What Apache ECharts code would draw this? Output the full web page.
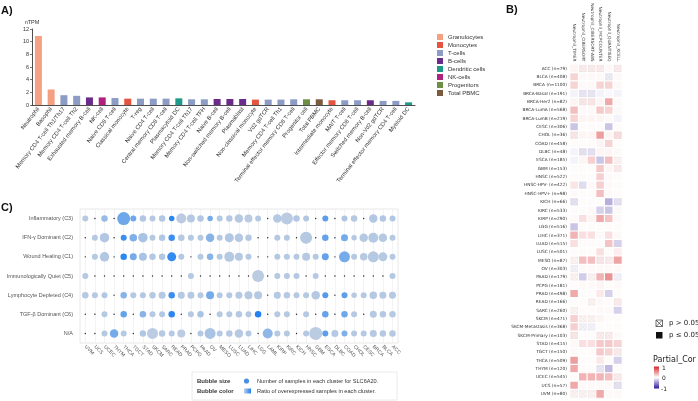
<!DOCTYPE html>
<html>
<head>
<meta charset="utf-8">
<script src="https://cdn.jsdelivr.net/npm/echarts@6/dist/echarts.min.js"></script>
<style>
  html, body { margin: 0; padding: 0; background: #fff; }
  #chart { width: 698px; height: 401px; }
</style>
</head>
<body>
<div id="chart"></div>
<script>
// ---- A) expression per blood cell type
const cellTypes = [
  "Neutrophil", "Basophil", "Memory CD4 T-cell Th1/Th17", "Memory CD4 T-cell Th2",
  "Exhausted memory B-cell", "NK-cell", "Naive CD8 T-cell", "Classical monocyte", "T-reg",
  "Naive CD4 T-cell", "Central memory CD8 T-cell", "Plasmacytoid DC", "Memory CD4 T-cell Th17",
  "Memory CD4 T-cell TFH", "Naive B-cell", "Non-switched memory B-cell", "Plasmablast",
  "Non-classical monocyte", "Vd2 gdTCR", "Memory CD4 T-cell Th1",
  "Terminal effector memory CD8 T-cell", "Progenitor cell", "Total PBMC",
  "Intermediate monocyte", "MAIT T-cell", "Effector memory CD8 T-cell",
  "Switched memory B-cell", "Non-Vd2 gdTCR", "Terminal effector memory CD4 T-cell", "Myeloid DC"
];
const nTPM = [10.9, 2.45, 1.55, 1.45, 1.2, 1.2, 1.1, 1.0, 1.0, 1.0, 1.0, 1.05, 0.9, 0.9, 0.95,
  0.95, 0.95, 0.85, 0.85, 0.85, 0.9, 0.9, 0.9, 0.75, 0.75, 0.75, 0.75, 0.65, 0.65, 0.42];
const cellGroup = ["Granulocytes", "Granulocytes", "T-cells", "T-cells", "B-cells", "NK-cells",
  "T-cells", "Monocytes", "T-cells", "T-cells", "T-cells", "Dendritic cells", "T-cells", "T-cells",
  "B-cells", "B-cells", "B-cells", "Monocytes", "T-cells", "T-cells", "T-cells", "Progenitors",
  "Total PBMC", "Monocytes", "T-cells", "T-cells", "B-cells", "T-cells", "T-cells", "Dendritic cells"];
const groupNames = ["Granulocytes", "Monocytes", "T-cells", "B-cells", "Dendritic cells",
  "NK-cells", "Progenitors", "Total PBMC"];
const groupColors = ["#f4a083", "#e6533f", "#8c9cc4", "#6a2c8c", "#1f9a8a", "#b0207f",
  "#6f8e45", "#7b5b3e"];

// ---- B) partial correlation heatmap
const methods = ["Neutrophil_TIMER", "Neutrophil_CIBERSORT", "Neutrophil_CIBERSORT-ABS",
  "Neutrophil_MCPCOUNTER", "Neutrophil_QUANTISEQ", "Neutrophil_XCELL"];
const cancerTypes = ["ACC", "BLCA", "BRCA", "BRCA-Basal", "BRCA-Her2", "BRCA-LumA", "BRCA-LumB",
  "CESC", "CHOL", "COAD", "DLBC", "ESCA", "GBM", "HNSC", "HNSC-HPV-", "HNSC-HPV+", "KICH", "KIRC",
  "KIRP", "LGG", "LIHC", "LUAD", "LUSC", "MESO", "OV", "PAAD", "PCPG", "PRAD", "READ", "SARC",
  "SKCM", "SKCM-Metastasis", "SKCM-Primary", "STAD", "TGCT", "THCA", "THYM", "UCEC", "UCS", "UVM"];
const cancerN = [79, 408, 1100, 191, 82, 568, 219, 306, 36, 458, 48, 185, 153, 522, 422, 98, 66,
  533, 290, 516, 371, 515, 501, 87, 303, 179, 181, 498, 166, 260, 471, 368, 103, 415, 150, 509,
  120, 545, 57, 80];
const partialCor = [
  [0.05, 0.08, 0.08, 0.08, 0.03, 0.08],
  [0.2, 0.03, 0.03, 0.03, -0.08, 0.03],
  [0.2, 0.03, 0.03, 0.2, 0.2, 0.03],
  [-0.05, -0.1, -0.1, -0.05, -0.03, -0.05],
  [0.05, 0.1, 0.1, 0.05, 0.4, 0.03],
  [0.3, 0.03, 0.03, 0.25, 0.2, 0.03],
  [0.2, 0.05, 0.05, 0.05, 0.03, -0.05],
  [-0.25, 0.02, 0.02, 0.02, -0.25, 0.02],
  [0.1, 0.05, 0.05, 0.45, 0.05, 0.15],
  [0.02, 0.02, 0.02, 0.05, 0.2, 0.02],
  [-0.05, -0.12, -0.12, 0.05, 0.05, 0.03],
  [-0.05, 0.05, 0.22, -0.25, 0.3, 0.05],
  [0.02, 0.02, 0.02, 0.25, 0.05, 0.08],
  [0.02, 0.02, 0.02, 0.22, 0.03, 0.02],
  [0.12, -0.15, 0.03, 0.22, 0.03, 0.02],
  [0.03, 0.02, 0.02, 0.3, 0.03, 0.02],
  [-0.12, 0.02, 0.02, 0.02, -0.35, -0.12],
  [0.02, 0.02, 0.03, -0.2, -0.25, 0.03],
  [0.03, 0.15, 0.05, 0.4, 0.28, 0.03],
  [-0.25, 0.02, 0.02, 0.02, 0.02, 0.02],
  [0.35, 0.15, 0.15, 0.03, 0.15, 0.03],
  [0.15, 0.02, 0.02, 0.02, 0.28, -0.2],
  [0.02, 0.02, 0.02, 0.15, 0.02, 0.08],
  [0.05, 0.3, 0.3, 0.1, 0.08, 0.42],
  [-0.05, 0.03, 0.03, 0.03, 0.03, 0.03],
  [0.05, -0.22, 0.05, 0.35, 0.5, -0.05],
  [0.02, 0.03, 0.03, 0.05, 0.02, 0.03],
  [0.4, 0.02, 0.02, 0.1, -0.2, 0.02],
  [0.02, 0.02, 0.05, 0.03, 0.02, 0.08],
  [0.05, 0.02, 0.02, 0.03, 0.03, -0.2],
  [0.22, 0.05, 0.05, 0.05, 0.02, 0.02],
  [0.22, -0.05, -0.05, 0.02, 0.02, 0.02],
  [0.1, 0.02, 0.02, 0.08, 0.08, 0.03],
  [0.03, 0.15, 0.15, 0.25, 0.25, 0.2],
  [0.03, 0.02, 0.02, 0.25, 0.2, 0.08],
  [0.45, 0.02, 0.02, 0.1, 0.02, -0.2],
  [0.4, 0.02, 0.02, -0.1, -0.3, 0.02],
  [0.02, 0.35, 0.35, 0.35, 0.3, 0.08],
  [0.4, 0.03, 0.03, 0.03, 0.03, -0.12],
  [0.05, 0.05, 0.05, 0.4, 0.03, 0.03]
];
// 1 = p > 0.05 (crossed cell)
const notSignificant = ["011101", "000010", "000000", "011000", "011000", "000000", "000000",
  "000000", "100001", "000000", "011000", "000001", "000001", "000000", "000000", "000000",
  "100001", "000000", "000000", "000000", "000000", "000000", "000000", "100110", "100000",
  "101001", "000000", "000000", "001001", "100000", "011000", "011000", "100110", "000000",
  "000001", "000000", "000100", "000001", "000001", "111000"];

// ---- C) immune subtype bubbles
const subtypes = ["Inflammatory (C3)", "IFN-\u03b3 Dominant (C2)", "Wound Healing (C1)",
  "Immunologically Quiet (C5)", "Lymphocyte Depleted (C4)", "TGF-\u03b2 Dominant (C6)", "N/A"];
const bubbleCancers = ["UVM", "UCS", "UCEC", "THYM", "THCA", "TGCT", "STAD", "SKCM", "SARC",
  "READ", "PRAD", "PCPG", "PAAD", "OV", "MESO", "LUSC", "LUAD", "LIHC", "LGG", "LAML", "KIRP",
  "KIRC", "KICH", "HNSC", "GBM", "ESCA", "DLBC", "COAD", "CHOL", "CESC", "BRCA", "BLCA", "ACC"];
const sampleCounts = [
  [64, 0, 75, 0, 300, 64, 75, 64, 75, 54, 178, 114, 75, 54, 64, 75, 128, 114, 64, 0, 128, 256, 75, 64, 0, 64, 0, 64, 75, 0, 128, 75, 64],
  [0, 64, 160, 0, 64, 100, 160, 64, 75, 75, 75, 64, 64, 128, 64, 144, 128, 75, 0, 0, 64, 64, 0, 256, 0, 75, 0, 87, 54, 128, 178, 128, 64],
  [0, 64, 160, 0, 75, 87, 114, 75, 75, 144, 64, 0, 64, 75, 64, 178, 114, 64, 0, 0, 64, 64, 64, 114, 64, 87, 0, 215, 64, 100, 215, 144, 64],
  [64, 0, 0, 0, 0, 0, 0, 0, 0, 0, 0, 64, 0, 0, 0, 0, 0, 0, 256, 0, 64, 64, 64, 0, 64, 0, 0, 0, 0, 0, 0, 0, 64],
  [75, 64, 64, 0, 75, 64, 64, 75, 87, 75, 87, 87, 64, 114, 64, 64, 87, 114, 114, 0, 87, 75, 64, 64, 128, 64, 0, 64, 54, 64, 100, 87, 87],
  [0, 0, 64, 0, 75, 0, 75, 64, 64, 75, 0, 64, 75, 0, 64, 64, 75, 64, 75, 0, 64, 64, 0, 64, 0, 75, 0, 75, 64, 0, 87, 75, 75],
  [0, 0, 64, 128, 64, 0, 75, 215, 75, 64, 114, 0, 64, 215, 64, 75, 128, 64, 0, 178, 64, 64, 0, 64, 300, 64, 87, 64, 64, 64, 87, 75, 75]
];
const overRatio = [
  [.06, 0, .25, 0, .5, .5, .1, .08, .1, .9, .05, .08, .1, .45, .08, .08, .08, .05, .08, 0, .08, .05, .1, .1, 0, .6, 0, .12, .08, 0, .1, .1, .1],
  [0, .08, .1, 0, .8, .4, .15, .08, .1, .8, .08, .08, .08, .35, .08, .1, .08, .08, 0, 0, .08, .08, 0, .08, 0, .55, 0, .45, .08, .08, .08, .08, .08],
  [0, .08, .1, 0, .9, .45, .15, .1, .1, .85, .08, 0, .08, .35, .08, .08, .08, .08, 0, 0, .08, .08, .08, .08, .08, .55, 0, .45, .08, .08, .08, .08, .08],
  [.08, 0, 0, 0, 0, 0, 0, 0, 0, 0, 0, .08, 0, 0, 0, 0, 0, 0, .05, 0, .08, .08, .08, 0, .08, 0, 0, 0, 0, 0, 0, 0, .08],
  [.08, .08, .1, 0, .35, .08, .1, .08, .08, .8, .08, .08, .08, .45, .08, .08, .08, .08, .08, 0, .08, .08, .08, .08, .08, .65, 0, .6, .08, .08, .08, .08, .08],
  [0, 0, .08, 0, .55, 0, .35, .08, .1, .9, 0, .08, .15, 0, .08, .08, .08, .08, .95, 0, .08, .08, 0, .08, 0, .55, 0, .5, .08, 0, .08, .08, .08],
  [0, 0, .08, .45, .08, 0, .1, .05, .08, .08, .05, 0, .08, .15, .08, .08, .08, .08, 0, .3, .08, .08, 0, .08, .05, .6, .08, .4, .08, .08, .08, .08, .08]
];

const chart = echarts.init(document.getElementById("chart"));
const sans = "Liberation Sans, Arial, sans-serif";
const dejavu = "DejaVu Sans, sans-serif";

const barSeries = groupNames.map((g, k) => ({
  name: g,
  type: "bar",
  stack: "cells",
  xAxisIndex: 0,
  yAxisIndex: 0,
  barWidth: 7,
  itemStyle: { color: groupColors[k] },
  data: nTPM.map((v, i) => (cellGroup[i] === g ? v : "-"))
}));

const heatData = [];
const crossData = [];
partialCor.forEach((row, r) => {
  row.forEach((v, c) => {
    heatData.push([c, r, v]);
    if (notSignificant[r][c] === "1") crossData.push([c, r, v]);
  });
});

const bubbleData = [];
sampleCounts.forEach((row, r) => {
  row.forEach((n, c) => bubbleData.push([c, r, n, overRatio[r][c]]));
});

function darken(col, k) {
  const p = echarts.color.parse(col);
  return "rgb(" + Math.round(p[0] * k) + "," + Math.round(p[1] * k) + "," + Math.round(p[2] * k) + ")";
}

function renderCross(params, api) {
  const c = api.coord([api.value(0), api.value(1)]);
  const s = api.size([1, 1]);
  const w = s[0] - 2.4, h = s[1] - 2.4;
  const x0 = c[0] - w / 2, y0 = c[1] - h / 2;
  const col = darken(api.visual("color"), 0.93);
  return {
    type: "group",
    children: [
      { type: "rect", shape: { x: x0, y: y0, width: w, height: h }, style: { fill: "none", stroke: col, lineWidth: 0.5 } },
      { type: "line", shape: { x1: x0, y1: y0, x2: x0 + w, y2: y0 + h }, style: { stroke: col, lineWidth: 0.5 } },
      { type: "line", shape: { x1: x0 + w, y1: y0, x2: x0, y2: y0 + h }, style: { stroke: col, lineWidth: 0.5 } }
    ]
  };
}

chart.setOption({
  animation: false,
  backgroundColor: "#fff",
  textStyle: { fontFamily: sans },
  legend: {
    data: groupNames,
    orient: "vertical",
    left: 437,
    top: 34,
    padding: 0,
    icon: "rect",
    itemWidth: 6,
    itemHeight: 6,
    itemGap: 2,
    textStyle: { fontSize: 6, color: "#333", fontFamily: sans }
  },
  grid: [
    { left: 32, top: 29, width: 383, height: 76 },
    { left: 570, top: 64, width: 52, height: 334, show: true, borderColor: "#dcdcdc", borderWidth: 0.8 },
    { left: 85.3, top: 209, width: 307.2, height: 134 }
  ],
  xAxis: [
    {
      gridIndex: 0, type: "category", data: cellTypes,
      axisLine: { lineStyle: { color: "#222", width: 0.8 } },
      axisTick: { alignWithLabel: true, length: 2, lineStyle: { color: "#222", width: 0.6 } },
      axisLabel: { rotate: 52, interval: 0, fontSize: 5.8, color: "#333", margin: 3 }
    },
    {
      gridIndex: 1, type: "category", data: methods, position: "top",
      axisLine: { show: false },
      axisTick: { length: 2, lineStyle: { color: "#999", width: 0.5 } },
      axisLabel: { rotate: 90, interval: 0, fontSize: 4.3, color: "#333", margin: 3, fontFamily: dejavu }
    },
    {
      gridIndex: 2, type: "category", data: bubbleCancers, boundaryGap: false,
      axisLine: { show: false },
      axisTick: { length: 3, lineStyle: { color: "#bbb", width: 0.6 } },
      splitLine: { show: true, lineStyle: { color: "#ebebeb", width: 0.6 } },
      axisLabel: { rotate: -45, interval: 0, fontSize: 5, color: "#555", margin: 3 }
    }
  ],
  yAxis: [
    {
      gridIndex: 0, type: "value", min: 0, max: 12, interval: 2,
      name: "nTPM", nameLocation: "end", nameGap: 4,
      nameTextStyle: { fontSize: 5.5, color: "#333" },
      axisLine: { show: true, lineStyle: { color: "#222", width: 0.8 } },
      axisTick: { show: true, length: 2, lineStyle: { color: "#222", width: 0.6 } },
      splitLine: { show: false },
      axisLabel: { fontSize: 5.5, color: "#333", margin: 3 }
    },
    {
      gridIndex: 1, type: "category", inverse: true,
      data: cancerTypes.map((c, i) => c + " (n=" + cancerN[i] + ")"),
      axisLine: { show: false },
      axisTick: { length: 2, lineStyle: { color: "#999", width: 0.5 } },
      axisLabel: { interval: 0, fontSize: 4.3, color: "#333", margin: 3, fontFamily: dejavu }
    },
    {
      gridIndex: 2, type: "category", inverse: true, data: subtypes, offset: 5.3,
      axisLine: { show: false },
      axisTick: { show: false },
      axisLabel: { interval: 0, fontSize: 5.5, color: "#555", margin: 7 }
    }
  ],
  visualMap: [{
    type: "continuous", show: false, min: -1, max: 1, dimension: 2,
    seriesIndex: [8, 9],
    inRange: { color: ["#2f1897", "#ffffff", "#d62728"] }
  }],
  series: barSeries.concat([
    {
      type: "heatmap", xAxisIndex: 1, yAxisIndex: 1, data: heatData,
      itemStyle: { borderColor: "#fff", borderWidth: 1.2 }
    },
    {
      type: "custom", xAxisIndex: 1, yAxisIndex: 1, data: crossData,
      encode: { x: 0, y: 1 }, renderItem: renderCross, z: 5
    },
    {
      type: "scatter", xAxisIndex: 2, yAxisIndex: 2, data: bubbleData,
      symbolSize: (v) => (v[2] > 0 ? 0.75 * Math.sqrt(v[2]) : 1.4),
      itemStyle: {
        opacity: 1,
        color: (p) => (p.data[2] > 0 ? echarts.color.lerp(p.data[3], ["#c2cfe1", "#1a7ef2"]) : "#222")
      }
    }
  ]),
  graphic: [
    { type: "text", x: 1, y: 5, style: { text: "A)", font: "bold 11px " + sans, fill: "#111" } },
    { type: "text", x: 506, y: 4, style: { text: "B)", font: "bold 11px " + sans, fill: "#111" } },
    { type: "text", x: 1, y: 202, style: { text: "C)", font: "bold 11px " + sans, fill: "#111" } },
    // B legend
    { type: "rect", shape: { x: 656, y: 320, width: 6.5, height: 6.5 }, style: { fill: "none", stroke: "#333", lineWidth: 0.7 } },
    { type: "line", shape: { x1: 656, y1: 320, x2: 662.5, y2: 326.5 }, style: { stroke: "#333", lineWidth: 0.7 } },
    { type: "line", shape: { x1: 662.5, y1: 320, x2: 656, y2: 326.5 }, style: { stroke: "#333", lineWidth: 0.7 } },
    { type: "rect", shape: { x: 656, y: 332, width: 6.5, height: 6.5 }, style: { fill: "#111" } },
    { type: "text", x: 669, y: 319.5, style: { text: "p > 0.05", font: "7px " + dejavu, fill: "#222" } },
    { type: "text", x: 669, y: 331.5, style: { text: "p \u2264 0.05", font: "7px " + dejavu, fill: "#222" } },
    { type: "text", x: 653, y: 356, style: { text: "Partial_Cor", font: "8px " + dejavu, fill: "#222" } },
    {
      type: "rect", shape: { x: 654, y: 366.5, width: 5, height: 22 },
      style: {
        fill: new echarts.graphic.LinearGradient(0, 0, 0, 1, [
          { offset: 0, color: "#d62728" }, { offset: 0.5, color: "#ffffff" }, { offset: 1, color: "#2f1897" }
        ])
      }
    },
    { type: "text", x: 662, y: 365, style: { text: "1", font: "6px " + dejavu, fill: "#222" } },
    { type: "text", x: 662, y: 375.5, style: { text: "0", font: "6px " + dejavu, fill: "#222" } },
    { type: "text", x: 661, y: 386, style: { text: "-1", font: "6px " + dejavu, fill: "#222" } },
    // C frame and legend
    { type: "rect", shape: { x: 80, y: 209, width: 318, height: 134 }, style: { fill: "none", stroke: "#e2e2e2", lineWidth: 0.8 } },
    { type: "rect", shape: { x: 192, y: 372, width: 205, height: 28 }, style: { fill: "none", stroke: "#e4e4e4", lineWidth: 0.8 } },
    { type: "text", x: 197, y: 378, style: { text: "Bubble size", font: "bold 6px " + sans, fill: "#333" } },
    { type: "text", x: 197, y: 388, style: { text: "Bubble color", font: "bold 6px " + sans, fill: "#333" } },
    { type: "circle", shape: { cx: 246.5, cy: 381, r: 2.6 }, style: { fill: "#4a90e2" } },
    {
      type: "rect", shape: { x: 244, y: 388.5, width: 7, height: 5 },
      style: {
        fill: new echarts.graphic.LinearGradient(0, 0, 1, 0, [
          { offset: 0, color: "#c2cfe1" }, { offset: 1, color: "#1a7ef2" }
        ])
      }
    },
    { type: "text", x: 257, y: 378, style: { text: "Number of samples in each cluster for SLC6A20.", font: "5.6px " + sans, fill: "#333" } },
    { type: "text", x: 257, y: 388, style: { text: "Ratio of overexpressed samples in each cluster.", font: "5.6px " + sans, fill: "#333" } }
  ]
});
</script>
</body>
</html>
